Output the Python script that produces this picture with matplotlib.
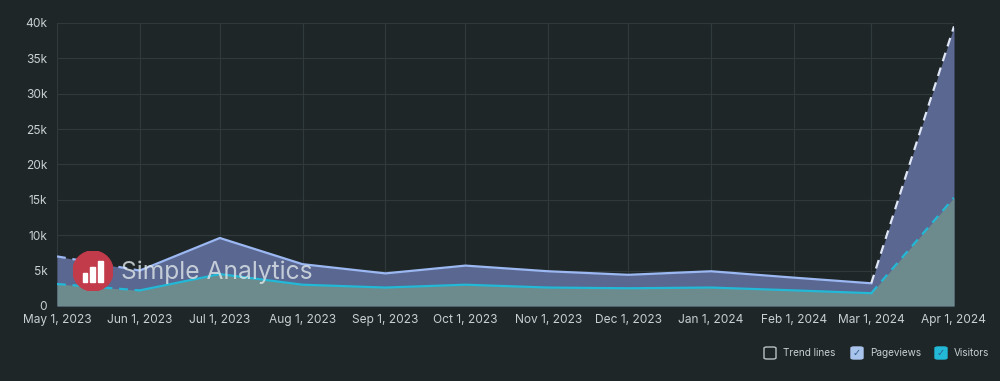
import matplotlib
matplotlib.use("Agg")
import matplotlib.pyplot as plt
import matplotlib.patches as mpatches
from matplotlib.ticker import FuncFormatter
from datetime import date

plt.rcParams['font.family'] = ['Inter', 'DejaVu Sans']

# monthly data
months = [date(2023, m, 1) for m in range(5, 13)] + [date(2024, m, 1) for m in range(1, 5)]
pageviews = [7000, 5000, 9600, 5900, 4600, 5700, 4900, 4400, 4900, 4000, 3200, 39500]
visitors = [3100, 2200, 4500, 3000, 2600, 3000, 2600, 2500, 2600, 2200, 1800, 15300]
y_ticks = [0, 5000, 10000, 15000, 20000, 25000, 30000, 35000, 40000]

bg = '#1f2628'
pv_line = '#9bb8f2'
pv_fill = '#5a6791'
vi_line = '#22b8d6'
vi_fill = '#6d8b8c'
txt = '#c9d0d3'
grid_c = '#30393b'

fig = plt.figure(figsize=(10, 3.81), dpi=100, facecolor=bg)
ax = fig.add_axes([0.057, 0.197, 0.897, 0.743])
ax.set_facecolor(bg)

ax.fill_between(months, pageviews, color=pv_fill, linewidth=0, zorder=2)
ax.fill_between(months, visitors, color=vi_fill, linewidth=0, zorder=3)

# solid middle part, dashed first and last segments (incomplete months)
ax.plot(months[1:-1], pageviews[1:-1], color=pv_line, lw=1.6, zorder=4)
ax.plot(months[:2], pageviews[:2], color=pv_line, lw=1.6, ls=(0, (4, 3)), zorder=4)
ax.plot(months[-2:], pageviews[-2:], color='#dfe6f5', lw=1.6, ls=(0, (4, 3)), zorder=4)
ax.plot(months[1:-1], visitors[1:-1], color=vi_line, lw=1.6, zorder=5)
ax.plot(months[:2], visitors[:2], color=vi_line, lw=1.6, ls=(0, (4, 3)), zorder=5)
ax.plot(months[-2:], visitors[-2:], color=vi_line, lw=1.6, ls=(0, (4, 3)), zorder=5)

ax.set_xlim(months[0], months[-1])
ax.set_ylim(0, 40000)
ax.set_yticks(y_ticks)
ax.yaxis.set_major_formatter(FuncFormatter(lambda v, p: '0' if v == 0 else f'{int(v/1000)}k'))
ax.set_xticks(months)
ax.set_xticklabels([f"{d.strftime('%b')} 1, {d.year}" for d in months])

ax.grid(True, color=grid_c, lw=0.8, zorder=0)
for s in ax.spines.values():
    s.set_visible(False)
ax.tick_params(colors=txt, labelsize=8.6, length=0, pad=7)
ax.tick_params(axis='x', pad=6)

# watermark logo + name
logo = fig.add_axes([0.073, 1 - 291 / 381, 0.04, 40 / 381])
logo.set_xlim(0, 1)
logo.set_ylim(0, 1)
logo.axis('off')
logo.add_patch(mpatches.Circle((0.5, 0.5), 0.5, color='#c23b4a'))
for bx, h in [(0.30, 0.24), (0.49, 0.38), (0.68, 0.54)]:
    logo.add_patch(mpatches.Rectangle((bx - 0.06, 0.22), 0.12, h, color='white'))
fig.text(0.121, 1 - 272 / 381, 'Simple Analytics', color='#dfe8ea', alpha=0.8,
         fontsize=17.7, va='center', ha='left')

# legend checkboxes
legend_items = [('Trend lines', None, 0.764), ('Pageviews', '#a9c4ec', 0.851), ('Visitors', '#22b8d6', 0.935)]
for label, col, x in legend_items:
    y = 1 - 353 / 381
    w, h = 0.012, 0.012 * 1000 / 381
    if col is None:
        fig.patches.append(mpatches.FancyBboxPatch((x, y - h / 2), w, h, boxstyle='round,pad=0,rounding_size=0.003',
                                                   transform=fig.transFigure, fill=False,
                                                   edgecolor='#b8c0c4', lw=1.0))
    else:
        fig.patches.append(mpatches.FancyBboxPatch((x, y - h / 2), w, h, boxstyle='round,pad=0,rounding_size=0.003',
                                                   transform=fig.transFigure, facecolor=col,
                                                   edgecolor=col, lw=1.0))
        fig.text(x + w / 2, y, '✓', color='#2c5d8a', fontsize=7, ha='center', va='center',
                 family=['DejaVu Sans'])
    fig.text(x + w + 0.007, y, label, color=txt, fontsize=7.2, ha='left', va='center')

fig.savefig('out.png', dpi=100, facecolor=bg)
